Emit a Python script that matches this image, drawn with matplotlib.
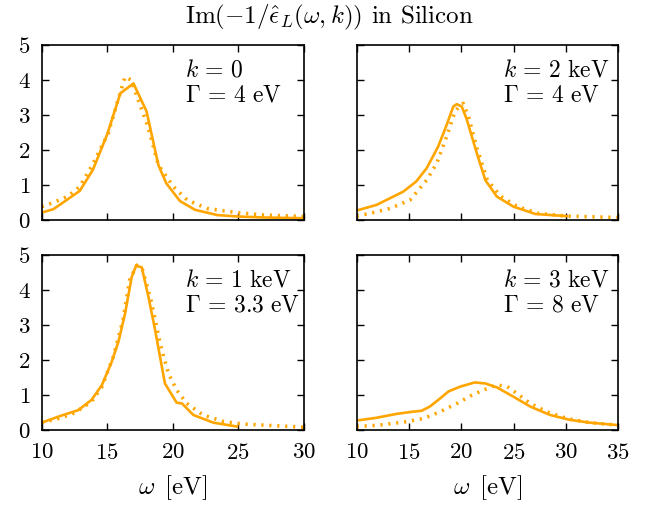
import numpy as np
import matplotlib
matplotlib.use("Agg")
import matplotlib.pyplot as plt

plt.rcParams['font.family'] = 'cmr10'
plt.rcParams['mathtext.fontset'] = 'cm'
plt.rcParams['axes.formatter.use_mathtext'] = True

ORANGE = '#ffa500'

# k = 0, Gamma = 4 eV
w_k0_calc = [10, 10.9, 12.9, 13.9, 15.0, 16.0, 17.0, 18.0, 18.9, 19.5, 20.55, 21.7, 23.4, 24.9, 27.0, 30]
y_k0_calc = [0.21, 0.31, 0.83, 1.43, 2.45, 3.62, 3.9, 3.1, 1.57, 1.05, 0.54, 0.29, 0.14, 0.1, 0.07, 0.05]
w_k0_exp = [10, 10.9, 12.0, 12.9, 13.9, 15.08, 15.8, 16.36, 16.8, 17.5, 18.1, 18.9, 20.05, 21.1, 22.6, 24.9, 27.0, 30]
y_k0_exp = [0.38, 0.5, 0.68, 0.95, 1.6, 2.48, 3.4, 4.09, 4.0, 3.29, 2.67, 1.57, 0.95, 0.57, 0.33, 0.21, 0.14, 0.1]

# k = 2 keV, Gamma = 4 eV
w_k2_calc = [10, 11.9, 14.46, 15.7, 16.7, 17.8, 18.6, 19.24, 19.57, 20.05, 20.5, 21.5, 22.3, 23.4, 25.0, 27.1, 30.1]
y_k2_calc = [0.27, 0.43, 0.81, 1.1, 1.48, 2.1, 2.71, 3.24, 3.31, 3.24, 2.9, 1.9, 1.14, 0.67, 0.38, 0.17, 0.11]
w_k2_exp = [10, 11.3, 13.2, 15.1, 16.7, 17.66, 18.6, 19.4, 20.0, 20.2, 20.7, 21.5, 22.5, 23.8, 25.4, 27.3, 30.1, 35]
y_k2_exp = [0.11, 0.19, 0.33, 0.57, 1.14, 1.62, 2.38, 3.1, 3.3, 3.33, 2.95, 2.05, 1.14, 0.67, 0.38, 0.19, 0.11, 0.07]

# k = 1 keV, Gamma = 3.3 eV
w_k1_calc = [10, 11.4, 12.8, 13.8, 14.6, 15.34, 15.85, 16.36, 16.87, 17.2, 17.63, 18.14, 18.65, 19.4, 20.3, 20.7, 21.57, 23.1, 24.9]
y_k1_calc = [0.21, 0.4, 0.57, 0.86, 1.29, 1.95, 2.52, 3.33, 4.38, 4.69, 4.65, 3.81, 2.86, 1.33, 0.78, 0.76, 0.43, 0.21, 0.1]
w_k1_exp = [10, 11.5, 12.5, 13.8, 14.6, 15.47, 16.2, 16.7, 17.25, 17.7, 18.4, 19.03, 19.66, 20.3, 21.07, 22.3, 23.9, 25.4, 30]
y_k1_exp = [0.21, 0.35, 0.49, 0.81, 1.24, 2.1, 3.14, 4.28, 4.71, 4.57, 3.62, 2.48, 1.62, 1.14, 0.76, 0.43, 0.24, 0.17, 0.08]

# k = 3 keV, Gamma = 8 eV
w_k3_calc = [10, 11.9, 13.8, 15.26, 16.2, 17.0, 17.97, 18.77, 19.9, 21.3, 22.3, 23.4, 25.0, 26.6, 28.5, 30.4, 32.3, 35]
y_k3_calc = [0.27, 0.35, 0.46, 0.52, 0.55, 0.67, 0.9, 1.1, 1.24, 1.36, 1.33, 1.22, 0.95, 0.67, 0.43, 0.29, 0.21, 0.14]
w_k3_exp = [10, 12.2, 14.8, 16.4, 17.97, 19.6, 20.85, 22.1, 23.4, 24.4, 25.3, 26.6, 28.2, 30.1, 32.3, 35]
y_k3_exp = [0.1, 0.14, 0.24, 0.33, 0.52, 0.76, 0.97, 1.14, 1.29, 1.24, 1.05, 0.76, 0.52, 0.33, 0.21, 0.14]

panels = [
    # rect, xmax, calc, exp, labels, text x, show x labels, show y labels
    ([0.064, 0.567, 0.402, 0.3445], 30, (w_k0_calc, y_k0_calc), (w_k0_exp, y_k0_exp),
     (r'$k\,=\,0$', r'$\Gamma\,=\,4\ \mathrm{eV}$'), 0.545, False, True),
    ([0.547, 0.567, 0.401, 0.3445], 35, (w_k2_calc, y_k2_calc), (w_k2_exp, y_k2_exp),
     (r'$k\,=\,2\ \mathrm{keV}$', r'$\Gamma\,=\,4\ \mathrm{eV}$'), 0.56, False, False),
    ([0.064, 0.1535, 0.402, 0.3445], 30, (w_k1_calc, y_k1_calc), (w_k1_exp, y_k1_exp),
     (r'$k\,=\,1\ \mathrm{keV}$', r'$\Gamma\,=\,3.3\ \mathrm{eV}$'), 0.545, True, True),
    ([0.547, 0.1535, 0.401, 0.3445], 35, (w_k3_calc, y_k3_calc), (w_k3_exp, y_k3_exp),
     (r'$k\,=\,3\ \mathrm{keV}$', r'$\Gamma\,=\,8\ \mathrm{eV}$'), 0.56, True, False),
]

fig = plt.figure(figsize=(6.52, 5.08), dpi=100)

for rect, xmax, calc, exp, labels, tx, show_x, show_y in panels:
    ax = fig.add_axes(rect)
    ax.plot(exp[0], exp[1], color=ORANGE, lw=2.6, linestyle=(0, (0.6, 1.6)))
    ax.plot(calc[0], calc[1], color=ORANGE, lw=1.9)
    ax.set_xlim(10, xmax)
    ax.set_ylim(0, 5)
    ax.set_xticks(np.arange(10, xmax + 1, 5))
    ax.set_yticks(np.arange(0, 6, 1))
    ax.tick_params(direction='in', top=True, right=True, length=5, width=1.0,
                   labelsize=16.5)
    ax.tick_params(axis='x', pad=9)
    ax.tick_params(axis='y', pad=8)
    if not show_x:
        ax.tick_params(labelbottom=False)
    else:
        ax.set_xlabel(r'$\omega\ \, [\mathrm{eV}]$', fontsize=18, labelpad=8)
    if not show_y:
        ax.tick_params(labelleft=False)
    for s in ax.spines.values():
        s.set_linewidth(1.2)
    ax.text(tx, 0.853, labels[0], transform=ax.transAxes, ha='left', va='center', fontsize=17)
    ax.text(tx, 0.714, labels[1], transform=ax.transAxes, ha='left', va='center', fontsize=17)

fig.text(0.505, 0.965, r'$\mathrm{Im}(-1/\hat{\epsilon}_L(\omega,k))$ in Silicon',
         ha='center', va='center', fontsize=18)

fig.savefig('out.png', dpi=100)
